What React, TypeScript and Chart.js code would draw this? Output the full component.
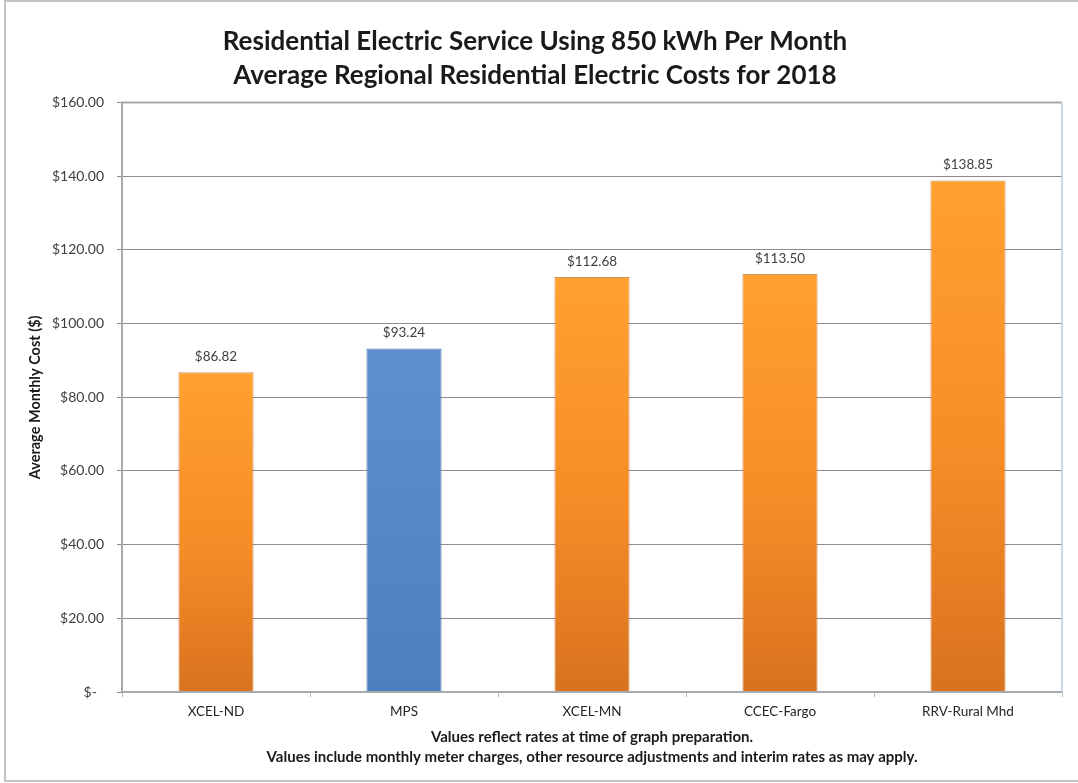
import React, { useEffect, useRef } from "react";
import { Chart, registerables } from "chart.js";

Chart.register(...registerables);

const categories = ["XCEL-ND", "MPS", "XCEL-MN", "CCEC-Fargo", "RRV-Rural Mhd"];
const monthlyCost = [86.82, 93.24, 112.68, 113.5, 138.85];
const highlightIndex = 1;
const titleLines = [
  "Residential Electric Service Using 850 kWh Per Month",
  "Average Regional Residential Electric Costs for 2018",
];
const yAxisTitle = "Average Monthly Cost ($)";
const footnoteLines = [
  "Values reflect rates at time of graph preparation.",
  "Values include monthly meter charges, other resource adjustments and interim rates as may apply.",
];
const yMin = 0;
const yMax = 160;
const yStep = 20;

const FONT = "Lato, 'Open Sans', sans-serif";

function fmtMoney(v: number): string {
  return "$" + v.toFixed(2);
}

export default function App() {
  const canvasRef = useRef<HTMLCanvasElement | null>(null);

  useEffect(() => {
    const canvas = canvasRef.current;
    if (!canvas) return;

    const bgPlugin = {
      id: "bg",
      beforeDraw(chart: any) {
        const { ctx, width, height } = chart;
        ctx.save();
        ctx.fillStyle = "#ffffff";
        ctx.fillRect(0, 0, width, height);
        ctx.strokeStyle = "#c4c4c4";
        ctx.lineWidth = 2;
        ctx.strokeRect(5, 1, width + 10, 780);
        ctx.restore();
      },
      afterDraw(chart: any) {
        const { ctx, chartArea } = chart;
        const { left, right, top, bottom } = chartArea;
        ctx.save();
        ctx.lineWidth = 2;
        ctx.strokeStyle = "#a6a9ad";
        ctx.beginPath();
        ctx.moveTo(left, bottom);
        ctx.lineTo(left, top);
        ctx.lineTo(right, top);
        ctx.stroke();
        ctx.beginPath();
        ctx.moveTo(left, bottom);
        ctx.lineTo(right, bottom);
        ctx.stroke();
        ctx.strokeStyle = "#b9cde5";
        ctx.lineWidth = 1.5;
        ctx.beginPath();
        ctx.moveTo(right, top);
        ctx.lineTo(right, bottom);
        ctx.stroke();
        ctx.restore();
      },
    };

    const valueLabels = {
      id: "valueLabels",
      afterDatasetsDraw(chart: any) {
        const { ctx } = chart;
        const meta = chart.getDatasetMeta(0);
        ctx.save();
        ctx.font = `13.5px ${FONT}`;
        ctx.fillStyle = "#404040";
        ctx.textAlign = "center";
        ctx.textBaseline = "middle";
        meta.data.forEach((el: any, i: number) => {
          ctx.fillText(fmtMoney(monthlyCost[i]), el.x, el.y - 15.5);
        });
        ctx.restore();
      },
    };

    const barColor = (context: any) => {
      const chart = context.chart;
      const area = chart.chartArea;
      const isBlue = context.dataIndex === highlightIndex;
      if (!area || !chart.scales.y) return isBlue ? "#5585c5" : "#f28c28";
      const yTop = chart.scales.y.getPixelForValue(context.raw);
      const g = chart.ctx.createLinearGradient(0, yTop, 0, area.bottom);
      if (isBlue) {
        g.addColorStop(0, "#5d8fd1");
        g.addColorStop(1, "#4d7ec0");
      } else {
        g.addColorStop(0, "#ffa12f");
        g.addColorStop(0.55, "#f68c27");
        g.addColorStop(1, "#d9721f");
      }
      return g;
    };

    const chart = new Chart(canvas, {
      type: "bar",
      data: {
        labels: categories,
        datasets: [
          {
            data: monthlyCost,
            backgroundColor: barColor,
            borderColor: (ctx: any) =>
              ctx.dataIndex === highlightIndex ? "rgba(60,95,150,0.8)" : "rgba(190,100,30,0.7)",
            borderWidth: 1,
            barPercentage: 0.4,
            categoryPercentage: 1,
          },
        ],
      },
      plugins: [bgPlugin, valueLabels],
      options: {
        responsive: false,
        animation: false,
        layout: { padding: { left: 8, right: 16, top: 0, bottom: 0 } },
        plugins: {
          legend: { display: false },
          tooltip: { enabled: false },
          title: {
            display: true,
            text: titleLines,
            color: "#1a1a1a",
            font: { family: FONT, size: 26, weight: "bold", lineHeight: 1.3 },
            padding: { top: 25, bottom: 10 },
          },
        },
        scales: {
          x: {
            grid: {
              display: true,
              drawOnChartArea: false,
              drawTicks: true,
              tickLength: 5,
              color: "#bfbfbf",
            },
            border: { display: false },
            ticks: {
              color: "#262626",
              font: { family: FONT, size: 13.5 },
              padding: 7,
            },
            title: {
              display: true,
              text: footnoteLines,
              color: "#1a1a1a",
              font: { family: FONT, size: 15, weight: "bold", lineHeight: 1.33 },
              padding: { top: 0, bottom: 16 },
            },
            afterFit(scale: any) {
              scale.height = 91;
            },
          },
          y: {
            min: yMin,
            max: yMax,
            ticks: {
              stepSize: yStep,
              color: "#404040",
              font: { family: FONT, size: 14 },
              padding: 13,
              callback: (v: any) => (Number(v) === 0 ? "$-  " : fmtMoney(Number(v))),
            },
            grid: {
              color: "#8c8c8c",
              lineWidth: 1,
              tickLength: 5,
            },
            border: { display: false },
            title: {
              display: true,
              text: yAxisTitle,
              color: "#1a1a1a",
              font: { family: FONT, size: 14.5, weight: "bold", lineHeight: 1.2 },
              padding: { top: 19, bottom: 0 },
            },
            afterFit(scale: any) {
              scale.width = 114;
            },
          },
        },
      },
    });

    return () => {
      chart.destroy();
    };
  }, []);

  return (
    <div style={{ position: "absolute", left: 0, top: 0, width: 1078, height: 783 }}>
      <canvas ref={canvasRef} width={1078} height={783} />
    </div>
  );
}
